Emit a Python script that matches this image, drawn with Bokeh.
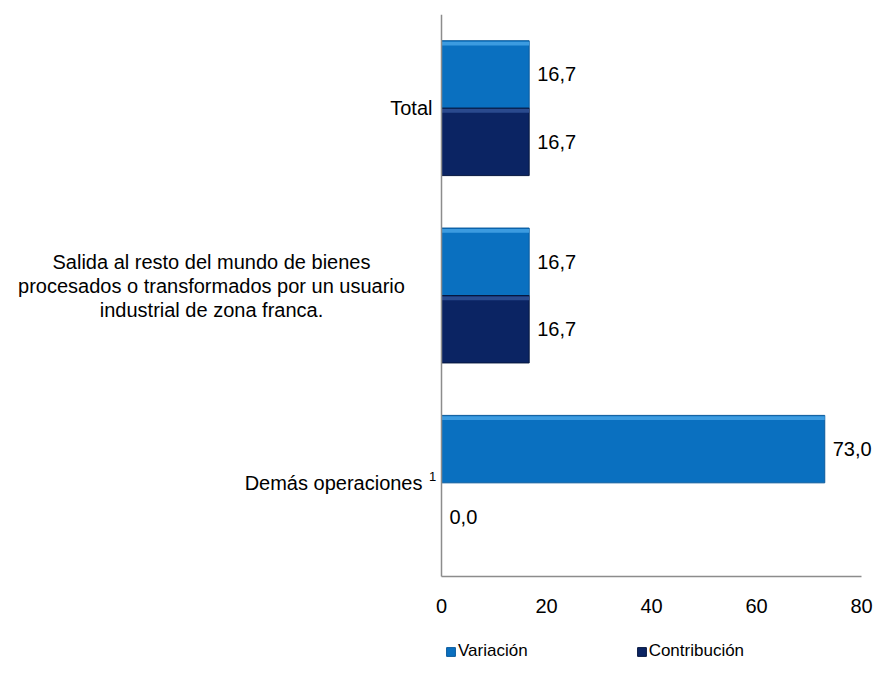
from bokeh.plotting import figure
from bokeh.models import (ColumnDataSource, Range1d, LabelSet, Legend,
                          LegendItem, FixedTicker)
from bokeh.core.properties import value
from bokeh.embed import file_html
from bokeh.resources import INLINE

# ---- data ----
categories = ["Total", "Salida", "Demás"]
category_labels = [
    ["Total"],
    ["Salida al resto del mundo de bienes",
     "procesados o transformados por un usuario",
     "industrial de zona franca."],
    ["Demás operaciones"],
]
footnote = "1"
variacion = [16.7, 16.7, 73.0]
contribucion = [16.7, 16.7, 0.0]
series_names = ["Variación", "Contribución"]
x_ticks = [0, 20, 40, 60, 80]

# ---- layout / style ----
FONT = "Liberation Sans"
W, H = 874, 689
ZERO_PX = 441            # canvas x of value 0
PX_PER_UNIT = 5.25       # pixels per x unit
TOP_PX, AXIS_PX = 14, 576  # canvas y of top of category band and of x axis
n = len(categories)
band = (AXIS_PX - TOP_PX) / n
extra = (H - AXIS_PX) / band

C_VAR = "#0A70C0"
C_VAR_LINE = "#0A5A9C"
C_VAR_HI = "#3C9BE0"
C_CON = "#0B2463"
C_CON_LINE = "#06173F"
C_CON_HI = "#2A4A8E"
AXIS_C = "#8C8C8C"

BH = 0.36
ypos = [n - 0.5 - i for i in range(n)]
src = ColumnDataSource(dict(
    y=ypos,
    yv=[y + BH / 2 for y in ypos],
    yc=[y - BH / 2 for y in ypos],
    var=variacion,
    con=contribucion,
    var_txt=[f"{v:.1f}".replace(".", ",") for v in variacion],
    con_txt=[f"{v:.1f}".replace(".", ",") for v in contribucion],
))

p = figure(width=W, height=H, output_backend="svg", toolbar_location=None,
           y_range=Range1d(-extra, n),
           x_range=Range1d(-ZERO_PX / PX_PER_UNIT, (W - ZERO_PX) / PX_PER_UNIT),
           min_border_left=0, min_border_right=0, min_border_top=TOP_PX, min_border_bottom=0)
p.outline_line_color = None
p.xgrid.grid_line_color = None
p.ygrid.grid_line_color = None
p.yaxis.visible = False

rv = p.hbar(y="yv", right="var", left=0, height=BH,
            source=src, fill_color=C_VAR, line_color=C_VAR_LINE, line_width=1)
rc = p.hbar(y="yc", right="con", left=0, height=BH,
            source=src, fill_color=C_CON, line_color=C_CON_LINE, line_width=1)
# light bevel strip along the top of every bar
src.data["yv_hi"] = [y + BH / 2 - 0.015 for y in src.data["yv"]]
src.data["yc_hi"] = [y + BH / 2 - 0.015 for y in src.data["yc"]]
p.hbar(y="yv_hi", right="var", left=0, height=0.02,
       source=src, fill_color=C_VAR_HI, line_color=None)
p.hbar(y="yc_hi", right="con", left=0, height=0.02,
       source=src, fill_color=C_CON_HI, line_color=None)

# axis lines (only from 0 to 80 / over the category band, like the original)
p.segment(x0=[0], x1=[0], y0=[0], y1=[n], line_color=AXIS_C, line_width=1.5)
p.segment(x0=[x_ticks[0]], x1=[x_ticks[-1]], y0=[0], y1=[0], line_color=AXIS_C, line_width=1.5)

# value labels
for fld, txt, yy in (("var", "var_txt", "yv"), ("con", "con_txt", "yc")):
    p.add_layout(LabelSet(x=fld, y=yy, text=txt, source=src,
                          x_offset=8, text_baseline="middle", text_align="left",
                          text_font=value(FONT), text_font_size="20px", text_color="#000000"))

# x axis, fixed at value 0 of the y scale
p.xaxis.fixed_location = 0
p.xaxis.ticker = FixedTicker(ticks=x_ticks)
p.xaxis.axis_line_color = None
p.xaxis.major_tick_line_color = None
p.xaxis.minor_tick_line_color = None
p.xaxis.major_label_standoff = 16
p.xaxis.major_label_text_font = FONT
p.xaxis.major_label_text_font_size = "20px"
p.xaxis.major_label_text_color = "#000000"


def cat_label(i, text, x_off, align, size="20px", y_off=0):
    s = ColumnDataSource(dict(x=[0], y=[ypos[i]], t=[text]))
    p.add_layout(LabelSet(x="x", y="y", text="t", source=s, x_offset=x_off, y_offset=y_off,
                          text_align=align, text_baseline="middle",
                          text_font=value(FONT), text_font_size=size, text_color="#000000"))


cat_label(0, category_labels[0][0], -9, "right")
for k, line in enumerate(category_labels[1]):
    cat_label(1, line, -230, "center", y_off=34 - 24 * k)
cat_label(2, category_labels[2][0], -19, "right")
cat_label(2, footnote, -9, "center", size="13px", y_off=6)

legend = Legend(items=[LegendItem(label=series_names[0], renderers=[rv]),
                       LegendItem(label=series_names[1], renderers=[rc])],
                orientation="horizontal", location=(445, 28),
                glyph_width=11, glyph_height=11, label_standoff=2, spacing=108,
                label_text_font=FONT, label_text_font_size="17px",
                label_text_color="#000000",
                border_line_color=None, background_fill_alpha=0,
                margin=0, padding=0)
p.add_layout(legend, "center")

open("out.html", "w").write(file_html(p, INLINE))
